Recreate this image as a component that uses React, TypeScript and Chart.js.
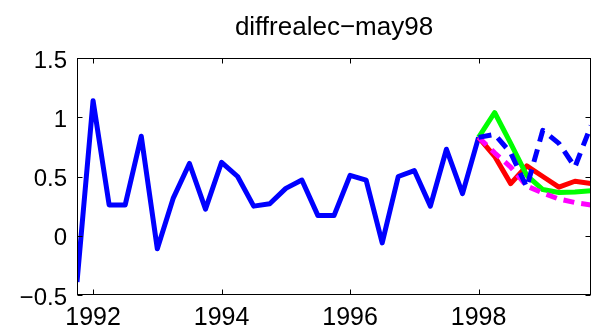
import React, { useEffect, useRef } from "react";
import { Chart, registerables } from "chart.js";

Chart.register(...registerables);

const TITLE = "diffrealec\u2212may98";

const histDates = [
  1991.75, 1992.0, 1992.25, 1992.5, 1992.75, 1993.0, 1993.25, 1993.5, 1993.75,
  1994.0, 1994.25, 1994.5, 1994.75, 1995.0, 1995.25, 1995.5, 1995.75,
  1996.0, 1996.25, 1996.5, 1996.75, 1997.0, 1997.25, 1997.5, 1997.75, 1998.0,
];
const histValues = [
  -0.39, 1.14, 0.26, 0.26, 0.84, -0.11, 0.32, 0.61, 0.225,
  0.62, 0.5, 0.25, 0.27, 0.4, 0.47, 0.17, 0.17,
  0.51, 0.47, -0.06, 0.5, 0.55, 0.25, 0.73, 0.355, 0.83,
];

const fcDates = [1998.0, 1998.25, 1998.5, 1998.75, 1999.0, 1999.25, 1999.5, 1999.75];
const fcRed = [0.83, 0.67, 0.44, 0.59, 0.5, 0.41, 0.46, 0.44];
const fcGreen = [0.83, 1.04, 0.78, 0.51, 0.39, 0.365, 0.37, 0.38];
const fcMagenta = [0.83, 0.7, 0.58, 0.42, 0.36, 0.31, 0.28, 0.26];
const fcBlueDash = [0.83, 0.855, 0.7, 0.41, 0.89, 0.78, 0.58, 0.93];

const xTicks = [1992, 1994, 1996, 1998];
const yTicks = [-0.5, 0, 0.5, 1, 1.5];
const xRange = [1991.75, 1999.75];
const yRange = [-0.5, 1.5];

const FONT = "'Liberation Sans', Arial, Helvetica, sans-serif";

const toPoints = (xs: number[], ys: number[]) => xs.map((x, i) => ({ x, y: ys[i] }));

const boxPlugin = {
  id: "matlabBox",
  afterDraw(chart: any) {
    const { ctx, chartArea: a, scales } = chart;
    ctx.save();
    ctx.strokeStyle = "#000";
    ctx.lineWidth = 1;
    const l = Math.round(a.left) + 0.5;
    const r = Math.round(a.right) - 0.5;
    const t = Math.round(a.top) + 0.5;
    const b = Math.round(a.bottom) - 0.5;
    ctx.strokeRect(l, t, r - l, b - t);
    const len = 5;
    ctx.beginPath();
    scales.x.ticks.forEach((tk: any) => {
      const x = Math.round(scales.x.getPixelForValue(tk.value)) + 0.5;
      ctx.moveTo(x, b);
      ctx.lineTo(x, b - len);
      ctx.moveTo(x, t);
      ctx.lineTo(x, t + len);
    });
    scales.y.ticks.forEach((tk: any) => {
      const y = Math.round(scales.y.getPixelForValue(tk.value)) + 0.5;
      ctx.moveTo(l, y);
      ctx.lineTo(l + len, y);
      ctx.moveTo(r, y);
      ctx.lineTo(r - len, y);
    });
    ctx.stroke();
    ctx.restore();
  },
};

export default function App() {
  const ref = useRef<HTMLCanvasElement | null>(null);

  useEffect(() => {
    if (!ref.current) return;
    const common = {
      pointRadius: 0,
      borderWidth: 5,
      tension: 0,
      fill: false,
      borderJoinStyle: "round" as const,
    };
    const chart = new Chart(ref.current, {
      type: "line",
      data: {
        datasets: [
          {
            ...common,
            label: "forecast 4",
            data: toPoints(fcDates, fcBlueDash),
            borderColor: "#0000ff",
            borderDash: [13, 8],
            borderCapStyle: "butt",
          },
          {
            ...common,
            label: "forecast 3",
            data: toPoints(fcDates, fcMagenta),
            borderColor: "#ff00ff",
            borderDash: [11, 7],
            borderCapStyle: "butt",
          },
          {
            ...common,
            label: "forecast 2",
            data: toPoints(fcDates, fcGreen),
            borderColor: "#00ff00",
          },
          {
            ...common,
            label: "forecast 1",
            data: toPoints(fcDates, fcRed),
            borderColor: "#ff0000",
          },
          {
            ...common,
            label: "diffrealec",
            data: toPoints(histDates, histValues),
            borderColor: "#0000ff",
          },
        ],
      },
      options: {
        animation: false,
        responsive: false,
        devicePixelRatio: 1,
        layout: { padding: { left: 0, right: 6, top: 0, bottom: 0 } },
        plugins: {
          legend: { display: false },
          tooltip: { enabled: false },
          title: {
            display: true,
            fullSize: false,
            text: TITLE,
            color: "#000",
            font: { family: FONT, size: 26, weight: "normal", lineHeight: 1.2 },
            padding: { top: 12, bottom: 14.8 },
          },
        },
        scales: {
          x: {
            type: "linear",
            min: xRange[0],
            max: xRange[1],
            grid: { display: false, drawTicks: false },
            border: { display: false },
            afterBuildTicks: (s: any) => {
              s.ticks = xTicks.map((v) => ({ value: v }));
            },
            afterFit: (s: any) => {
              s.height = 33;
            },
            ticks: {
              color: "#000",
              padding: 8,
              maxRotation: 0,
              autoSkip: false,
              font: { family: FONT, size: 25 },
              callback: (v: any) => String(v),
            },
          },
          y: {
            type: "linear",
            min: yRange[0],
            max: yRange[1],
            grid: { display: false, drawTicks: false },
            border: { display: false },
            afterBuildTicks: (s: any) => {
              s.ticks = yTicks.map((v) => ({ value: v }));
            },
            afterFit: (s: any) => {
              s.width = 77;
            },
            ticks: {
              color: "#000",
              padding: 10,
              labelOffset: 3,
              autoSkip: false,
              font: { family: FONT, size: 24 },
              callback: (v: any) => String(v).replace("-", "\u2212"),
            },
          },
        },
      },
      plugins: [boxPlugin],
    } as any);
    return () => chart.destroy();
  }, []);

  return (
    <div style={{ position: "absolute", left: 0, top: 0, width: 597, height: 328, background: "#fff" }}>
      <canvas ref={ref} width={597} height={328} style={{ display: "block" }} />
    </div>
  );
}
